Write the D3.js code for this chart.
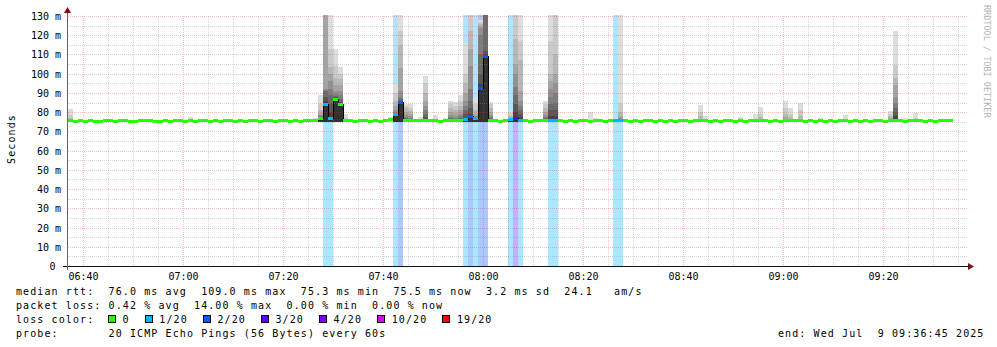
<!DOCTYPE html>
<html>
<head>
<meta charset="utf-8">
<script src="https://cdn.jsdelivr.net/npm/d3@7"></script>
<style>
  body { margin: 0; background: #fff; }
  svg text { font-family: "DejaVu Sans Mono", monospace; }
  .pre { white-space: pre; }
</style>
</head>
<body>
<svg id="chart" width="997" height="347"></svg>
<script>
// --- data ---
const startTime = new Date(2025, 6, 9, 6, 37, 0);
const slotCount = 180;

// median rtt per minute (ms), last 3 minutes have no data yet
const medianMs = [
  75.4, 75.3, 75.5, 75.3, 75.4, 75.3, 75.3, 75.6, 75.4, 75.3,
  75.4, 75.5, 75.3, 75.3, 75.4, 75.4, 75.6, 75.3, 75.3, 75.4,
  75.3, 75.5, 75.4, 75.3, 75.6, 75.3, 75.4, 75.4, 75.3, 75.5,
  75.3, 75.4, 75.4, 75.3, 75.5, 75.3, 75.4, 75.6, 75.3, 75.4,
  75.4, 75.3, 75.5, 75.4, 75.3, 75.4, 75.3, 75.4, 75.5, 75.6,
  76.5, 83.9, 76.6, 86.7, 83.9, 75.6, 75.4, 75.3, 75.4, 75.5,
  75.3, 75.4, 75.3, 75.5, 76.3, 78.6, 84.8, 75.9, 75.7, 75.4,
  75.5, 75.8, 75.4, 75.6, 75.3, 75.5, 75.7, 75.6, 75.8, 76.0,
  77.8, 76.5, 92.2, 109.0, 75.8, 75.4, 75.3, 75.5, 76.0, 76.6,
  75.7, 75.4, 75.3, 75.4, 75.5, 75.7, 75.6, 75.6, 75.4, 75.3,
  75.4, 75.3, 75.5, 75.4, 75.3, 75.6, 75.4, 75.3, 75.4, 75.5,
  75.6, 75.4, 75.3, 75.5, 75.3, 75.4, 75.4, 75.3, 75.5, 75.3,
  75.4, 75.3, 75.4, 75.5, 75.3, 75.4, 75.6, 75.5, 75.3, 75.4,
  75.3, 75.4, 75.5, 75.3, 75.4, 75.3, 75.4, 75.5, 75.6, 75.4,
  75.3, 75.4, 75.3, 75.6, 75.5, 75.4, 75.5, 75.3, 75.4, 75.3,
  75.4, 75.3, 75.5, 75.3, 75.4, 75.5, 75.3, 75.4, 75.3, 75.4,
  75.3, 75.5, 75.4, 75.3, 75.6, 75.9, 75.4, 75.3, 75.4, 75.5,
  75.4, 75.3, 75.4, 75.3, 75.4, 75.5, 75.5
];

// [minute index, lost pings out of 20]
const lossEvents = [
  [51, 1], [52, 1], [65, 1], [66, 2], [79, 1], [80, 2], [81, 1], [82, 2],
  [83, 2], [88, 1], [89, 3], [90, 1], [96, 1], [97, 1], [109, 1], [110, 1]
];

// smoke: [minute index, upper ping of each band, outermost band first]
const smoke = [
  [0, [81.6, 78.5, 77, 76.2]],
  [24, [77.5]],
  [49, [77.2, 76.2]],
  [50, [88.8, 84, 81, 79.5, 78.5, 77.8, 77.2, 76.9, 76.7, 76.6]],
  [51, [135, 135, 135, 135, 92, 91.5, 91, 88, 86, 84.5]],
  [52, [135, 113, 103.5, 100, 96, 92, 89, 85, 80, 77]],
  [53, [112.6, 104, 98, 94, 91, 89.5, 88.5, 88, 87.5, 87]],
  [54, [103.5, 100, 97, 94, 91, 89, 87, 85.5, 84.5, 84.2]],
  [55, [79.2, 77, 76.2]],
  [64, [77.5, 76.8]],
  [65, [95, 90, 86, 83, 81, 80, 79.5, 79.2, 79, 78.9]],
  [66, [135, 122, 115, 103, 91, 88, 87, 86, 85.5, 85.1]],
  [67, [84.5, 83, 82, 80, 78.5, 77.5, 77, 76.5, 76.2, 76]],
  [68, [84, 82, 80.5, 79, 78, 77, 76.5, 76.2, 76, 75.8]],
  [70, [77.4]],
  [71, [99, 95, 90, 86, 83, 81, 79, 77.5, 76.5, 76]],
  [73, [78.3, 76.5]],
  [75, [77.2]],
  [76, [86, 84, 82, 80, 78.5, 77.5, 76.8, 76.3, 76, 75.8]],
  [77, [85.3, 83, 81, 79.5, 78, 77.2, 76.6, 76.2, 76, 75.8]],
  [78, [89, 86, 83, 81, 79, 78, 77, 76.5, 76.2, 76]],
  [79, [116, 100, 95, 90, 86, 83, 81, 79, 77, 76.3]],
  [80, [135, 135, 122, 113, 104, 92, 86, 82, 79, 78.1]],
  [81, [87.5, 84, 81, 79, 78, 77.5, 77, 76.8, 76.7, 76.6]],
  [82, [128, 127, 126, 125, 124, 120, 110, 100, 95, 92.5]],
  [83, [135, 135, 135, 135, 135, 135, 135, 112, 110, 109.3]],
  [84, [85.3, 84, 82, 80, 78.5, 77.5, 76.8, 76.3, 76, 75.9]],
  [88, [81, 79.5, 78, 77, 76.5, 76.3, 76.2, 76.1, 76.1, 76.1]],
  [89, [135, 135, 118, 105, 100, 93, 89, 84, 80, 77]],
  [90, [135, 117, 107, 91, 86, 83, 81, 79, 77.5, 76]],
  [95, [86, 84, 82, 80, 78.5, 77.5, 76.8, 76.3, 76, 75.8]],
  [96, [135, 117, 100, 96, 92, 88, 84, 81, 78, 76]],
  [97, [135, 135, 110, 100, 95, 90, 85, 81, 78, 76]],
  [104, [80]],
  [105, [77]],
  [110, [135, 85, 80, 78, 77, 76.5, 76.2, 76, 75.9, 75.8]],
  [126, [83.5, 80, 78]],
  [127, [78]],
  [134, [77.3]],
  [137, [79]],
  [138, [82.5, 79, 77.5]],
  [143, [85.6, 82, 79, 77.5]],
  [144, [82, 79, 77.5]],
  [146, [85, 81, 78]],
  [150, [77]],
  [155, [78.3]],
  [164, [80.5, 79, 78, 77, 76.5, 76.2, 76, 75.9]],
  [165, [122, 104.4, 98, 94, 88, 85, 82, 80, 78, 76.5]],
  [167, [76.8]],
  [169, [79.7, 77]]
];
const pingFloor = 75.1;

const yTicks = [0, 10, 20, 30, 40, 50, 60, 70, 80, 90, 100, 110, 120, 130];
const yMinorTicks = [5, 15, 25, 35, 45, 55, 65, 75, 85, 95, 105, 115, 125];
const xTickLabels = ["06:40", "07:00", "07:20", "07:40", "08:00", "08:20", "08:40", "09:00", "09:20"];

// smokeping loss colours: [label, colour, lowest loss count]
const lossLegend = [
  ["0", "#26ff00", 0], ["1/20", "#00b8ff", 1], ["2/20", "#0059ff", 2],
  ["3/20", "#5e00ff", 3], ["4/20", "#7e00ff", 4], ["10/20", "#dd00ff", 10],
  ["19/20", "#ff0000", 19]
];

const legendLines = [
  "median rtt:  76.0 ms avg  109.0 ms max  75.3 ms min  75.5 ms now  3.2 ms sd  24.1   am/s",
  "packet loss: 0.42 % avg  14.00 % max  0.00 % min  0.00 % now",
  "loss color:",
  "probe:       20 ICMP Echo Pings (56 Bytes) every 60s"
];
const endLabel = "end: Wed Jul  9 09:36:45 2025";

// --- drawing ---
const W = 997, H = 347;
const plot = { left: 68, right: 968, top: 16, bottom: 266 };

const svg = d3.select("#chart");
svg.append("rect").attr("width", W).attr("height", H).attr("fill", "#fff");

const slotTime = i => d3.timeMinute.offset(startTime, i);
const x = d3.scaleTime()
  .domain([startTime, slotTime(slotCount)])
  .range([plot.left, plot.right]);
const y = d3.scaleLinear().domain([0, 130]).range([plot.bottom, plot.top]);

function lossColor(n) {
  let c = lossLegend[0][1];
  lossLegend.forEach(l => { if (n >= l[2]) c = l[1]; });
  return c;
}
const lossAt = new Map(lossEvents);

svg.append("defs").append("clipPath").attr("id", "plotclip")
  .append("rect")
  .attr("x", plot.left).attr("y", 15)
  .attr("width", plot.right - plot.left).attr("height", plot.bottom - 15);

const g = svg.append("g").attr("clip-path", "url(#plotclip)")
  .attr("shape-rendering", "crispEdges");

// loss background columns
g.selectAll(".lossbg").data(lossEvents).join("rect")
  .attr("class", "lossbg")
  .attr("x", d => x(slotTime(d[0])))
  .attr("width", d => x(slotTime(d[0] + 1)) - x(slotTime(d[0])))
  .attr("y", 15)
  .attr("height", plot.bottom - 15)
  .attr("fill", d => lossColor(d[1]))
  .attr("fill-opacity", 0.33);

// smoke bands, light outside to dark inside
const bandRects = [];
smoke.forEach(([i, tops]) => tops.forEach((t, k) => bandRects.push({ i, k, t })));
g.selectAll(".smoke").data(bandRects).join("rect")
  .attr("class", "smoke")
  .attr("x", d => x(slotTime(d.i)))
  .attr("width", d => x(slotTime(d.i + 1)) - x(slotTime(d.i)))
  .attr("y", d => y(d.t))
  .attr("height", d => y(pingFloor) - y(d.t))
  .attr("fill", d => {
    const v = Math.round(19 * (9 - d.k) + 50);
    return d3.rgb(v, v, v);
  });

// grid, dotted
const grid = svg.append("g").attr("shape-rendering", "crispEdges");
const minorTimes = d3.timeMinute.every(5).range(slotTime(0), slotTime(slotCount))
  .filter(t => t.getMinutes() % 20 !== 0);
const majorTimes = d3.timeMinute.every(20).range(slotTime(0), slotTime(slotCount));
const minorStroke = "rgba(150,150,150,0.38)";
const majorStroke = "rgba(220,60,60,0.32)";

grid.selectAll(".vmin").data(minorTimes).join("line")
  .attr("x1", d => Math.round(x(d)) + 0.5).attr("x2", d => Math.round(x(d)) + 0.5)
  .attr("y1", plot.top).attr("y2", plot.bottom)
  .attr("stroke", minorStroke).attr("stroke-dasharray", "1,1");
grid.selectAll(".hmin").data(yMinorTicks).join("line")
  .attr("x1", plot.left).attr("x2", plot.right)
  .attr("y1", d => Math.round(y(d)) + 0.5).attr("y2", d => Math.round(y(d)) + 0.5)
  .attr("stroke", minorStroke).attr("stroke-dasharray", "1,1");
grid.selectAll(".vmaj").data(majorTimes).join("line")
  .attr("x1", d => Math.round(x(d)) + 0.5).attr("x2", d => Math.round(x(d)) + 0.5)
  .attr("y1", plot.top).attr("y2", plot.bottom)
  .attr("stroke", majorStroke).attr("stroke-dasharray", "1,1");
grid.selectAll(".hmaj").data(yTicks.filter(v => v > 0)).join("line")
  .attr("x1", plot.left).attr("x2", plot.right)
  .attr("y1", d => Math.round(y(d)) + 0.5).attr("y2", d => Math.round(y(d)) + 0.5)
  .attr("stroke", majorStroke).attr("stroke-dasharray", "1,1");

// thin black median step line
const g2 = svg.append("g").attr("clip-path", "url(#plotclip)")
  .attr("shape-rendering", "crispEdges");
const medPoints = medianMs.map((m, i) => [slotTime(i), m]);
medPoints.push([slotTime(medianMs.length), medianMs[medianMs.length - 1]]);
g2.append("path")
  .datum(medPoints)
  .attr("fill", "none")
  .attr("stroke", "#000")
  .attr("stroke-width", 1)
  .attr("d", d3.line().x(d => x(d[0])).y(d => y(d[1])).curve(d3.curveStepAfter));

// median bars coloured by loss
g2.selectAll(".median").data(medianMs).join("rect")
  .attr("class", "median")
  .attr("x", (d, i) => x(slotTime(i)))
  .attr("width", (d, i) => x(slotTime(i + 1)) - x(slotTime(i)))
  .attr("y", d => Math.round(y(d) - 1.5))
  .attr("height", 3)
  .attr("fill", (d, i) => lossColor(lossAt.get(i) || 0));

// axes lines and arrows
const ax = svg.append("g").attr("shape-rendering", "crispEdges");
ax.append("line").attr("x1", 63).attr("x2", 970)
  .attr("y1", plot.bottom + 0.5).attr("y2", plot.bottom + 0.5)
  .attr("stroke", "#111");
ax.append("line").attr("x1", 67.5).attr("x2", 67.5)
  .attr("y1", 11).attr("y2", 270)
  .attr("stroke", "#666");
svg.append("path").attr("d", "M64,13 L71,13 L67.5,7 Z").attr("fill", "#7a1010");
svg.append("path").attr("d", "M968,263 L968,270 L974,266.5 Z").attr("fill", "#7a1010");

// y axis labels
const yAxis = d3.axisLeft(y).tickValues(yTicks).tickSize(0).tickPadding(0)
  .tickFormat(v => v === 0 ? "0" : v + " m");
const yAxisG = svg.append("g").attr("transform", "translate(61,0)").call(yAxis);
yAxisG.select(".domain").remove();
yAxisG.selectAll("text")
  .attr("font-family", "DejaVu Sans Mono, monospace")
  .attr("font-size", 10)
  .attr("fill", "#000")
  .attr("dy", "0.35em")
  .attr("x", v => v === 0 ? -5.5 : 0);

// x axis labels
const parseTime = d3.timeParse("%Y-%m-%d %H:%M");
const xAxis = d3.axisBottom(x)
  .tickValues(xTickLabels.map(l => parseTime("2025-07-09 " + l)))
  .tickSize(0).tickPadding(0)
  .tickFormat(d3.timeFormat("%H:%M"));
const xAxisG = svg.append("g").attr("transform", "translate(0,270)").call(xAxis);
xAxisG.select(".domain").remove();
xAxisG.selectAll("text")
  .attr("font-family", "DejaVu Sans Mono, monospace")
  .attr("font-size", 10)
  .attr("fill", "#000")
  .attr("dy", "0.95em")
  .attr("y", 0);

// axis title
svg.append("text")
  .attr("transform", "translate(14.5,139) rotate(-90)")
  .attr("text-anchor", "middle")
  .attr("font-size", 10)
  .attr("letter-spacing", 1.1)
  .text("Seconds");

// watermark
svg.append("text")
  .attr("transform", "translate(984,5) rotate(90)")
  .attr("font-size", 8.5)
  .attr("fill", "#b4b4b4")
  .text("RRDTOOL / TOBI OETIKER");

// legend
const legendBase = [295, 309, 323, 337];
svg.selectAll(".legend").data(legendLines).join("text")
  .attr("class", "legend pre")
  .attr("xml:space", "preserve")
  .attr("x", 16)
  .attr("y", (d, i) => legendBase[i])
  .attr("font-size", 10)
  .attr("letter-spacing", 1.1)
  .text(d => d);

const charW = 7.1;
let sx = 108;
lossLegend.forEach(([label, color]) => {
  svg.append("rect")
    .attr("x", sx + 0.5).attr("y", 315.5)
    .attr("width", 7).attr("height", 7)
    .attr("fill", color).attr("stroke", "#000")
    .attr("shape-rendering", "crispEdges");
  const tx = sx + 14.5;
  svg.append("text")
    .attr("x", tx).attr("y", 323)
    .attr("font-size", 10).attr("letter-spacing", 1.1)
    .text(label);
  sx = tx + label.length * charW + 15.2;
});

svg.append("text")
  .attr("class", "pre")
  .attr("xml:space", "preserve")
  .attr("x", 778)
  .attr("y", 337)
  .attr("font-size", 10)
  .attr("letter-spacing", 1.1)
  .text(endLabel);
</script>
</body>
</html>
